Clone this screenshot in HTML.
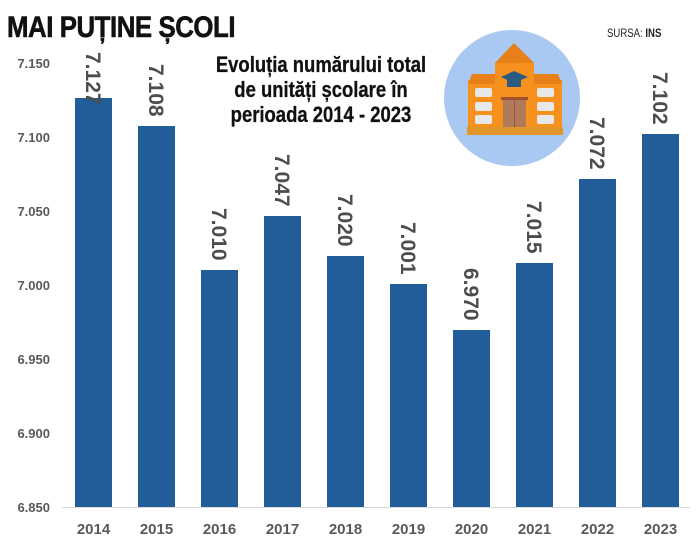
<!DOCTYPE html>
<html><head><meta charset="utf-8"><style>
body{margin:0;background:#fff;}
svg{display:block;font-family:"Liberation Sans",sans-serif;}
</style></head><body>
<svg width="699" height="545" viewBox="0 0 699 545">
<text x="7" y="37" font-size="30" font-weight="bold" fill="#111" stroke="#111" stroke-width="0.6" transform="translate(7,0) scale(0.86,1) translate(-7,0)" letter-spacing="-0.5">MAI PUȚINE ȘCOLI</text>
<text x="607" y="37" font-size="12" fill="#222" transform="translate(607,0) scale(0.8,1) translate(-607,0)">SURSA: <tspan font-weight="bold">INS</tspan></text>
<g font-size="22" font-weight="bold" fill="#111" stroke="#111" stroke-width="0.3" text-anchor="middle">
<text x="321" y="72" transform="translate(321,0) scale(0.84,1) translate(-321,0)">Evoluția numărului total</text>
<text x="321" y="97" transform="translate(321,0) scale(0.84,1) translate(-321,0)">de unități școlare în</text>
<text x="321" y="122" transform="translate(321,0) scale(0.84,1) translate(-321,0)">perioada 2014 - 2023</text>
</g>
<circle cx="512" cy="98" r="68" fill="#a9c8f2"/>
<rect x="468" y="80" width="94" height="48" fill="#f7911e"/>
<polygon points="468,84 472,74 495,74 495,84" fill="#e8801a"/>
<polygon points="534,84 534,74 558,74 562,84" fill="#e8801a"/>
<rect x="495" y="63" width="39" height="65" fill="#f7911e"/>
<polygon points="495,63 514,43 534,63" fill="#e8801a"/>
<rect x="467" y="127" width="96" height="8" fill="#e0962a"/>
<g fill="#e8e8e8"><rect x="475" y="88" width="17" height="9" rx="2"/><rect x="475" y="102" width="17" height="9" rx="2"/><rect x="475" y="115" width="17" height="9" rx="2"/><rect x="537" y="88" width="17" height="9" rx="2"/><rect x="537" y="102" width="17" height="9" rx="2"/><rect x="537" y="115" width="17" height="9" rx="2"/></g>
<rect x="501" y="97" width="27" height="3" fill="#a0522d"/>
<rect x="503" y="100" width="23" height="27" fill="#b07a5a"/>
<line x1="514.5" y1="100" x2="514.5" y2="127" stroke="#8a5a3a" stroke-width="1"/>
<polygon points="501,77 514,71 528,77 514,83" fill="#2d5a80"/>
<rect x="507" y="79" width="14" height="8" fill="#2d5a80"/>
<g font-size="13" font-weight="bold" fill="#595959" text-anchor="end">
<text x="50" y="68">7.150</text><text x="50" y="142">7.100</text><text x="50" y="216">7.050</text><text x="50" y="290">7.000</text><text x="50" y="364">6.950</text><text x="50" y="438">6.900</text><text x="50" y="512">6.850</text>
</g>
<line x1="62" y1="507.5" x2="690" y2="507.5" stroke="#d9d9d9" stroke-width="1"/>
<g fill="#215d99">
<rect x="75" y="98" width="37" height="409"/>
<rect x="138" y="126" width="37" height="381"/>
<rect x="201" y="270" width="37" height="237"/>
<rect x="264" y="216" width="37" height="291"/>
<rect x="327" y="256" width="37" height="251"/>
<rect x="390" y="284" width="37" height="223"/>
<rect x="453" y="330" width="37" height="177"/>
<rect x="516" y="263" width="37" height="244"/>
<rect x="579" y="179" width="37" height="328"/>
<rect x="642" y="134" width="37" height="373"/>
</g>
<g font-size="21" font-weight="bold" fill="#4d4d4d">
<text transform="translate(86,52) rotate(90)">7.127</text>
<text transform="translate(149,64) rotate(90)">7.108</text>
<text transform="translate(212,208) rotate(90)">7.010</text>
<text transform="translate(275,154) rotate(90)">7.047</text>
<text transform="translate(338,194) rotate(90)">7.020</text>
<text transform="translate(401,222) rotate(90)">7.001</text>
<text transform="translate(464,268) rotate(90)">6.970</text>
<text transform="translate(527,201) rotate(90)">7.015</text>
<text transform="translate(590,117) rotate(90)">7.072</text>
<text transform="translate(653,72) rotate(90)">7.102</text>
</g>
<g font-size="15" font-weight="bold" fill="#595959" text-anchor="middle">
<text x="93.5" y="534">2014</text><text x="156.5" y="534">2015</text><text x="219.5" y="534">2016</text><text x="282.5" y="534">2017</text><text x="345.5" y="534">2018</text><text x="408.5" y="534">2019</text><text x="471.5" y="534">2020</text><text x="534.5" y="534">2021</text><text x="597.5" y="534">2022</text><text x="660.5" y="534">2023</text>
</g>
</svg>
</body></html>
